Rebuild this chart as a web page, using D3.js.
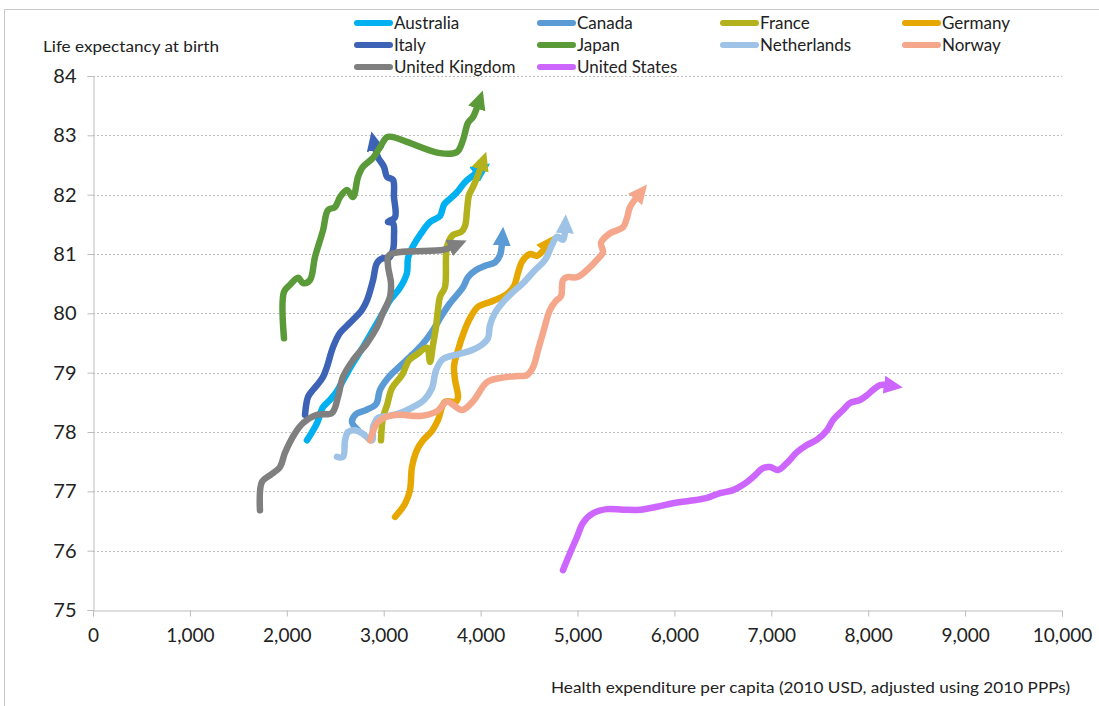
<!DOCTYPE html>
<html><head><meta charset="utf-8">
<script src="https://cdn.jsdelivr.net/npm/d3@7"></script>
<style>
html,body{margin:0;padding:0;background:#fff;}
svg{display:block;font-family:Lato,"Open Sans",sans-serif;}
</style></head>
<body>
<svg id="chart" width="1099" height="706"></svg>
<script>
// ---- data: [health expenditure per capita (USD), life expectancy] ----
const australia = [[2208,77.86],[2312,78.15],[2374,78.42],[2446,78.54],[2518,78.69],[2601,78.93],[2683,79.16],[2786,79.43],[2890,79.72],[2993,80.01],[3065,80.22],[3168,80.43],[3240,80.68],[3251,80.93],[3302,81.13],[3395,81.37],[3478,81.54],[3581,81.64],[3622,81.83],[3684,81.93],[3756,82.04],[3839,82.21],[3963,82.37]];
const canada = [[2735,78.03],[2673,78.17],[2714,78.30],[2817,78.37],[2921,78.47],[2962,78.71],[3044,78.91],[3148,79.08],[3292,79.30],[3395,79.47],[3498,79.69],[3602,79.97],[3684,80.17],[3818,80.44],[3870,80.61],[3953,80.73],[4045,80.80],[4149,80.86],[4200,80.98],[4221,81.19]];
const france = [[2972,77.86],[2993,78.25],[3034,78.45],[3086,78.74],[3189,78.96],[3261,79.21],[3344,79.31],[3447,79.42],[3478,79.18],[3509,79.47],[3540,79.77],[3560,80.06],[3581,80.28],[3632,80.44],[3653,81.12],[3715,81.32],[3798,81.37],[3839,81.47],[3860,81.74],[3880,81.99],[3922,82.13],[3973,82.33],[4004,82.47]];
const germany = [[3117,76.57],[3220,76.79],[3271,77.02],[3292,77.41],[3344,77.70],[3406,77.86],[3498,78.02],[3560,78.20],[3633,78.51],[3746,78.51],[3767,78.59],[3736,78.88],[3726,79.11],[3767,79.38],[3829,79.69],[3891,79.92],[3973,80.11],[4097,80.19],[4200,80.26],[4283,80.34],[4345,80.46],[4386,80.68],[4427,80.87],[4510,81.00],[4582,80.97],[4665,81.10]];
const italy = [[2188,78.29],[2219,78.59],[2270,78.71],[2312,78.79],[2374,78.93],[2415,79.10],[2477,79.43],[2549,79.67],[2652,79.84],[2776,80.06],[2828,80.22],[2890,80.56],[2931,80.85],[2993,80.93],[3044,80.92],[3096,81.07],[3106,81.29],[3096,81.52],[3044,81.54],[3117,81.62],[3106,81.96],[3096,82.25],[3034,82.30],[3003,82.47],[2941,82.63],[2910,82.80]];
const japan = [[1971,79.58],[1971,80.36],[2033,80.48],[2116,80.60],[2167,80.51],[2239,80.56],[2291,80.95],[2374,81.40],[2425,81.74],[2497,81.79],[2549,81.96],[2621,82.08],[2683,81.96],[2735,82.30],[2786,82.47],[2890,82.62],[2962,82.80],[3034,82.97],[3096,82.97],[3240,82.89],[3581,82.70],[3756,82.72],[3818,82.92],[3870,83.21],[3922,83.31],[3970,83.50]];
const netherlands = [[2518,77.58],[2580,77.58],[2601,77.86],[2632,78.00],[2704,78.03],[2776,77.98],[2879,77.86],[2890,78.08],[2941,78.24],[3044,78.27],[3168,78.32],[3302,78.42],[3416,78.54],[3498,78.74],[3540,79.04],[3612,79.23],[3767,79.31],[3911,79.38],[4014,79.47],[4076,79.58],[4097,79.80],[4149,80.01],[4231,80.19],[4334,80.36],[4438,80.51],[4562,80.73],[4665,80.90],[4737,81.15],[4788,81.29],[4850,81.24],[4871,81.40]];
const norway = [[2859,77.86],[2931,78.15],[3013,78.25],[3168,78.29],[3375,78.27],[3550,78.35],[3653,78.51],[3808,78.37],[3922,78.52],[4066,78.84],[4200,78.91],[4355,78.94],[4479,78.96],[4541,79.09],[4593,79.38],[4644,79.67],[4716,80.06],[4778,80.21],[4830,80.29],[4850,80.56],[4892,80.61],[4995,80.61],[5098,80.73],[5201,80.90],[5263,81.03],[5243,81.19],[5336,81.35],[5470,81.45],[5511,81.61],[5542,81.79],[5614,81.96]];
const unitedKingdom = [[1723,76.68],[1744,77.16],[1827,77.27],[1930,77.41],[1981,77.65],[2085,77.98],[2167,78.15],[2312,78.29],[2466,78.32],[2528,78.59],[2580,78.93],[2683,79.21],[2828,79.50],[2931,79.77],[2993,80.01],[3065,80.28],[3075,80.51],[3044,80.81],[3055,80.98],[3612,81.07],[3705,81.12]];
const unitedStates = [[4850,75.67],[4923,75.96],[4995,76.23],[5057,76.47],[5160,76.63],[5304,76.70],[5470,76.69],[5645,76.69],[5820,76.74],[5986,76.80],[6161,76.84],[6336,76.89],[6471,76.97],[6605,77.02],[6708,77.11],[6811,77.24],[6914,77.39],[6987,77.41],[7069,77.36],[7162,77.48],[7265,77.66],[7368,77.78],[7472,77.87],[7575,78.03],[7637,78.20],[7740,78.37],[7812,78.49],[7915,78.54],[7988,78.62],[8050,78.71],[8122,78.79],[8194,78.79]];

const countryNames = ["Australia","Canada","France","Germany","Italy","Japan","Netherlands","Norway","United Kingdom","United States"];
const countryValues = [australia,canada,france,germany,italy,japan,netherlands,norway,unitedKingdom,unitedStates];
const countryColors = ["#00b0f0","#5b9bd5","#b3b11c","#e5a700","#3c63b5","#5b9a38","#9ec3e6","#f4a78b","#7f7f7f","#cc66ff"];

const xTicks = [0,1000,2000,3000,4000,5000,6000,7000,8000,9000,10000];
const yTicks = [75,76,77,78,79,80,81,82,83,84];
const yTitle = "Life expectancy at birth";
const xTitle = "Health expenditure per capita (2010 USD, adjusted using 2010 PPPs)";

// ---- drawing ----
const svg = d3.select("#chart");
const x = d3.scaleLinear().domain([0,10000]).range([93,1062]);
const y = d3.scaleLinear().domain([75,84]).range([610,76]);

// frame
svg.append("path").attr("d","M4.5,706 L4.5,9.5 L1099,9.5").attr("fill","none").attr("stroke","#c8c8c8").attr("stroke-width",1);

// gridlines
svg.append("g").selectAll("line").data(yTicks.filter(d=>d>75)).join("line")
  .attr("x1",x(0)).attr("x2",x(10000))
  .attr("y1",d=>Math.round(y(d))+0.5).attr("y2",d=>Math.round(y(d))+0.5)
  .attr("stroke","#bdbdbd").attr("stroke-width",1).attr("stroke-dasharray","2,2");

// axes
const xAxis = svg.append("g").attr("transform",`translate(0,${y(75)+0.5})`)
  .call(d3.axisBottom(x).tickValues(xTicks).tickFormat(d3.format(",")).tickSize(6).tickPadding(12));
const yAxis = svg.append("g").attr("transform",`translate(${x(0)+0.5},0)`)
  .call(d3.axisLeft(y).tickValues(yTicks).tickFormat(d3.format("d")).tickSize(6).tickPadding(11));
[xAxis,yAxis].forEach(g=>{
  g.select(".domain").attr("stroke","#bdbdbd");
  g.selectAll(".tick line").attr("stroke","#bdbdbd");
  g.selectAll(".tick text").attr("fill","#222").style("font-family","Lato,sans-serif");
});
xAxis.selectAll(".tick text").style("font-size","19px");
yAxis.selectAll(".tick text").style("font-size","20px");

// titles
svg.append("text").attr("x",43).attr("y",52).attr("font-size",15.5).attr("fill","#222")
  .attr("textLength",176).attr("lengthAdjust","spacingAndGlyphs").text(yTitle);
svg.append("text").attr("x",551).attr("y",693).attr("font-size",15).attr("fill","#222")
  .attr("textLength",519).attr("lengthAdjust","spacingAndGlyphs").text(xTitle);

// arrow markers
const defs = svg.append("defs");
countryNames.forEach((n,i)=>{
  defs.append("marker").attr("id","arr"+i).attr("markerUnits","userSpaceOnUse")
    .attr("viewBox","0 -10 20 20").attr("markerWidth",20).attr("markerHeight",20)
    .attr("refX",3).attr("refY",0).attr("orient","auto")
    .append("path").attr("d","M0,-9 L19,0 L0,9 Z").attr("fill",countryColors[i]);
});

// series lines
const line = d3.line().x(d=>x(d[0])).y(d=>y(d[1])).curve(d3.curveCatmullRom.alpha(0.5));
svg.append("g").selectAll("path").data(countryValues).join("path")
  .attr("d",line).attr("fill","none")
  .attr("stroke",(d,i)=>countryColors[i]).attr("stroke-width",6.5)
  .attr("stroke-linecap","round").attr("stroke-linejoin","round")
  .attr("marker-end",(d,i)=>`url(#arr${i})`);

// legend
const legColX = [355,538,721,903];
const legRowY = [23,45,67];
const leg = svg.append("g");
countryNames.forEach((n,i)=>{
  const cx = legColX[i%4], cy = legRowY[Math.floor(i/4)];
  leg.append("line").attr("x1",cx+2).attr("x2",cx+35).attr("y1",cy).attr("y2",cy)
    .attr("stroke",countryColors[i]).attr("stroke-width",6).attr("stroke-linecap","round");
  leg.append("text").attr("x",cx+39).attr("y",cy).attr("dy","0.35em")
    .attr("font-size",17).attr("fill","#222").text(n);
});
</script>
</body></html>
